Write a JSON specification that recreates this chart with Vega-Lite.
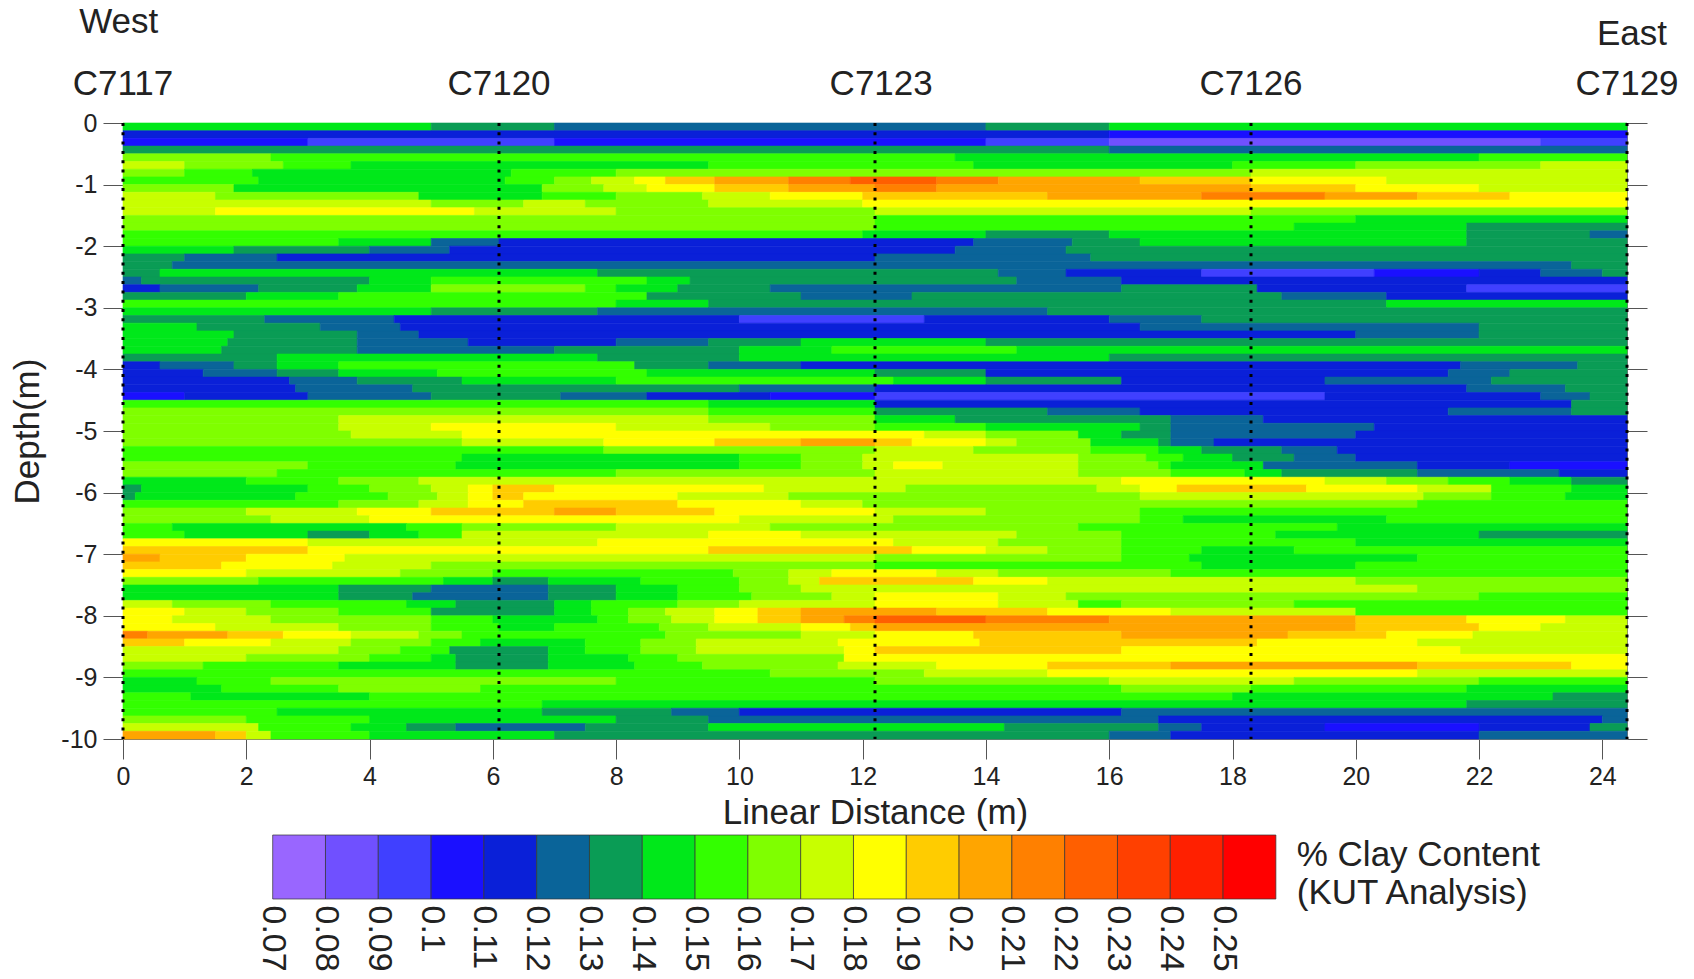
{"$schema":"https://vega.github.io/schema/vega-lite/v6.json","padding":{"left":10,"top":4,"right":0,"bottom":0},"background":"white","spacing":3,"config":{"font":"Liberation Sans","view":{"stroke":null},"axis":{"labelColor":"#222","titleColor":"#222","grid":false,"titleFontWeight":"normal"}},"vconcat":[{"width":1504,"height":616,"view":{"stroke":"#777"},"layer":[{"data":{"values":[
{"x0":0,"x1":5,"d0":0,"d1":-0.125,"clay":0.14},{"x0":5,"x1":7,"d0":0,"d1":-0.125,"clay":0.13},{"x0":7,"x1":14,"d0":0,"d1":-0.125,"clay":0.12},{"x0":14,"x1":16,"d0":0,"d1":-0.125,"clay":0.13},{"x0":16,"x1":24.4,"d0":0,"d1":-0.125,"clay":0.14},
{"x0":0,"x1":16,"d0":-0.125,"d1":-0.25,"clay":0.11},{"x0":16,"x1":24.4,"d0":-0.125,"d1":-0.25,"clay":0.1},
{"x0":0,"x1":3,"d0":-0.25,"d1":-0.375,"clay":0.1},{"x0":3,"x1":7,"d0":-0.25,"d1":-0.375,"clay":0.09},{"x0":7,"x1":14,"d0":-0.25,"d1":-0.375,"clay":0.1},{"x0":14,"x1":16,"d0":-0.25,"d1":-0.375,"clay":0.09},{"x0":16,"x1":23,"d0":-0.25,"d1":-0.375,"clay":0.08},{"x0":23,"x1":24.4,"d0":-0.25,"d1":-0.375,"clay":0.09},
{"x0":0,"x1":16,"d0":-0.375,"d1":-0.5,"clay":0.13},{"x0":16,"x1":24.4,"d0":-0.375,"d1":-0.5,"clay":0.12},
{"x0":0,"x1":2.4,"d0":-0.5,"d1":-0.625,"clay":0.16},{"x0":2.4,"x1":13.5,"d0":-0.5,"d1":-0.625,"clay":0.15},{"x0":13.5,"x1":22,"d0":-0.5,"d1":-0.625,"clay":0.14},{"x0":22,"x1":24.4,"d0":-0.5,"d1":-0.625,"clay":0.15},
{"x0":0,"x1":1,"d0":-0.625,"d1":-0.75,"clay":0.17},{"x0":1,"x1":2.6,"d0":-0.625,"d1":-0.75,"clay":0.16},{"x0":2.6,"x1":3.7,"d0":-0.625,"d1":-0.75,"clay":0.15},{"x0":3.7,"x1":9.5,"d0":-0.625,"d1":-0.75,"clay":0.14},{"x0":9.5,"x1":13.8,"d0":-0.625,"d1":-0.75,"clay":0.15},{"x0":13.8,"x1":18,"d0":-0.625,"d1":-0.75,"clay":0.14},{"x0":18,"x1":20,"d0":-0.625,"d1":-0.75,"clay":0.15},{"x0":20,"x1":23,"d0":-0.625,"d1":-0.75,"clay":0.16},{"x0":23,"x1":24.4,"d0":-0.625,"d1":-0.75,"clay":0.17},
{"x0":0,"x1":1,"d0":-0.75,"d1":-0.875,"clay":0.16},{"x0":1,"x1":2.1,"d0":-0.75,"d1":-0.875,"clay":0.15},{"x0":2.1,"x1":6.3,"d0":-0.75,"d1":-0.875,"clay":0.14},{"x0":6.3,"x1":8,"d0":-0.75,"d1":-0.875,"clay":0.15},{"x0":8,"x1":18.3,"d0":-0.75,"d1":-0.875,"clay":0.16},{"x0":18.3,"x1":24.4,"d0":-0.75,"d1":-0.875,"clay":0.17},
{"x0":0,"x1":2.2,"d0":-0.875,"d1":-1,"clay":0.15},{"x0":2.2,"x1":6.2,"d0":-0.875,"d1":-1,"clay":0.14},{"x0":6.2,"x1":7,"d0":-0.875,"d1":-1,"clay":0.15},{"x0":7,"x1":7.6,"d0":-0.875,"d1":-1,"clay":0.16},{"x0":7.6,"x1":8.3,"d0":-0.875,"d1":-1,"clay":0.17},{"x0":8.3,"x1":8.8,"d0":-0.875,"d1":-1,"clay":0.18},{"x0":8.8,"x1":9.6,"d0":-0.875,"d1":-1,"clay":0.19},{"x0":9.6,"x1":10.8,"d0":-0.875,"d1":-1,"clay":0.2},{"x0":10.8,"x1":11.8,"d0":-0.875,"d1":-1,"clay":0.21},{"x0":11.8,"x1":13.2,"d0":-0.875,"d1":-1,"clay":0.22},{"x0":13.2,"x1":14.2,"d0":-0.875,"d1":-1,"clay":0.21},{"x0":14.2,"x1":16.5,"d0":-0.875,"d1":-1,"clay":0.2},{"x0":16.5,"x1":18.3,"d0":-0.875,"d1":-1,"clay":0.19},{"x0":18.3,"x1":20.5,"d0":-0.875,"d1":-1,"clay":0.18},{"x0":20.5,"x1":24.4,"d0":-0.875,"d1":-1,"clay":0.17},
{"x0":0,"x1":1.8,"d0":-1,"d1":-1.125,"clay":0.16},{"x0":1.8,"x1":6.8,"d0":-1,"d1":-1.125,"clay":0.14},{"x0":6.8,"x1":7.8,"d0":-1,"d1":-1.125,"clay":0.16},{"x0":7.8,"x1":8.5,"d0":-1,"d1":-1.125,"clay":0.17},{"x0":8.5,"x1":9.6,"d0":-1,"d1":-1.125,"clay":0.18},{"x0":9.6,"x1":10.8,"d0":-1,"d1":-1.125,"clay":0.19},{"x0":10.8,"x1":12.2,"d0":-1,"d1":-1.125,"clay":0.2},{"x0":12.2,"x1":13.2,"d0":-1,"d1":-1.125,"clay":0.21},{"x0":13.2,"x1":18.3,"d0":-1,"d1":-1.125,"clay":0.2},{"x0":18.3,"x1":20,"d0":-1,"d1":-1.125,"clay":0.19},{"x0":20,"x1":22,"d0":-1,"d1":-1.125,"clay":0.18},{"x0":22,"x1":24.4,"d0":-1,"d1":-1.125,"clay":0.17},
{"x0":0,"x1":1.5,"d0":-1.125,"d1":-1.25,"clay":0.17},{"x0":1.5,"x1":4.8,"d0":-1.125,"d1":-1.25,"clay":0.16},{"x0":4.8,"x1":6.8,"d0":-1.125,"d1":-1.25,"clay":0.14},{"x0":6.8,"x1":8,"d0":-1.125,"d1":-1.25,"clay":0.15},{"x0":8,"x1":9.4,"d0":-1.125,"d1":-1.25,"clay":0.16},{"x0":9.4,"x1":10.5,"d0":-1.125,"d1":-1.25,"clay":0.17},{"x0":10.5,"x1":12,"d0":-1.125,"d1":-1.25,"clay":0.18},{"x0":12,"x1":15,"d0":-1.125,"d1":-1.25,"clay":0.19},{"x0":15,"x1":17.5,"d0":-1.125,"d1":-1.25,"clay":0.2},{"x0":17.5,"x1":19.5,"d0":-1.125,"d1":-1.25,"clay":0.21},{"x0":19.5,"x1":21,"d0":-1.125,"d1":-1.25,"clay":0.2},{"x0":21,"x1":22.5,"d0":-1.125,"d1":-1.25,"clay":0.19},{"x0":22.5,"x1":24.4,"d0":-1.125,"d1":-1.25,"clay":0.18},
{"x0":0,"x1":5,"d0":-1.25,"d1":-1.375,"clay":0.17},{"x0":5,"x1":6.5,"d0":-1.25,"d1":-1.375,"clay":0.16},{"x0":6.5,"x1":7.5,"d0":-1.25,"d1":-1.375,"clay":0.17},{"x0":7.5,"x1":9.5,"d0":-1.25,"d1":-1.375,"clay":0.16},{"x0":9.5,"x1":12,"d0":-1.25,"d1":-1.375,"clay":0.17},{"x0":12,"x1":24.4,"d0":-1.25,"d1":-1.375,"clay":0.18},
{"x0":0,"x1":1.5,"d0":-1.375,"d1":-1.5,"clay":0.17},{"x0":1.5,"x1":5.7,"d0":-1.375,"d1":-1.5,"clay":0.18},{"x0":5.7,"x1":8,"d0":-1.375,"d1":-1.5,"clay":0.17},{"x0":8,"x1":12.2,"d0":-1.375,"d1":-1.5,"clay":0.16},{"x0":12.2,"x1":18.3,"d0":-1.375,"d1":-1.5,"clay":0.17},{"x0":18.3,"x1":24.4,"d0":-1.375,"d1":-1.5,"clay":0.16},
{"x0":0,"x1":12.2,"d0":-1.5,"d1":-1.625,"clay":0.16},{"x0":12.2,"x1":20,"d0":-1.5,"d1":-1.625,"clay":0.15},{"x0":20,"x1":24.4,"d0":-1.5,"d1":-1.625,"clay":0.14},
{"x0":0,"x1":12.2,"d0":-1.625,"d1":-1.75,"clay":0.16},{"x0":12.2,"x1":19,"d0":-1.625,"d1":-1.75,"clay":0.15},{"x0":19,"x1":21.8,"d0":-1.625,"d1":-1.75,"clay":0.14},{"x0":21.8,"x1":24.4,"d0":-1.625,"d1":-1.75,"clay":0.13},
{"x0":0,"x1":12,"d0":-1.75,"d1":-1.875,"clay":0.15},{"x0":12,"x1":14,"d0":-1.75,"d1":-1.875,"clay":0.14},{"x0":14,"x1":16,"d0":-1.75,"d1":-1.875,"clay":0.13},{"x0":16,"x1":21.8,"d0":-1.75,"d1":-1.875,"clay":0.14},{"x0":21.8,"x1":23.8,"d0":-1.75,"d1":-1.875,"clay":0.13},{"x0":23.8,"x1":24.4,"d0":-1.75,"d1":-1.875,"clay":0.12},
{"x0":0,"x1":3.5,"d0":-1.875,"d1":-2,"clay":0.15},{"x0":3.5,"x1":5,"d0":-1.875,"d1":-2,"clay":0.14},{"x0":5,"x1":6.1,"d0":-1.875,"d1":-2,"clay":0.12},{"x0":6.1,"x1":13.8,"d0":-1.875,"d1":-2,"clay":0.11},{"x0":13.8,"x1":15.4,"d0":-1.875,"d1":-2,"clay":0.12},{"x0":15.4,"x1":16.5,"d0":-1.875,"d1":-2,"clay":0.13},{"x0":16.5,"x1":21.8,"d0":-1.875,"d1":-2,"clay":0.14},{"x0":21.8,"x1":24.4,"d0":-1.875,"d1":-2,"clay":0.13},
{"x0":0,"x1":1.8,"d0":-2,"d1":-2.125,"clay":0.14},{"x0":1.8,"x1":4,"d0":-2,"d1":-2.125,"clay":0.13},{"x0":4,"x1":5.3,"d0":-2,"d1":-2.125,"clay":0.12},{"x0":5.3,"x1":13.5,"d0":-2,"d1":-2.125,"clay":0.11},{"x0":13.5,"x1":15.3,"d0":-2,"d1":-2.125,"clay":0.12},{"x0":15.3,"x1":24.4,"d0":-2,"d1":-2.125,"clay":0.13},
{"x0":0,"x1":1,"d0":-2.125,"d1":-2.25,"clay":0.13},{"x0":1,"x1":2.5,"d0":-2.125,"d1":-2.25,"clay":0.12},{"x0":2.5,"x1":12.2,"d0":-2.125,"d1":-2.25,"clay":0.11},{"x0":12.2,"x1":15.7,"d0":-2.125,"d1":-2.25,"clay":0.12},{"x0":15.7,"x1":24.4,"d0":-2.125,"d1":-2.25,"clay":0.13},
{"x0":0,"x1":0.8,"d0":-2.25,"d1":-2.375,"clay":0.13},{"x0":0.8,"x1":23.5,"d0":-2.25,"d1":-2.375,"clay":0.12},{"x0":23.5,"x1":24.4,"d0":-2.25,"d1":-2.375,"clay":0.13},
{"x0":0,"x1":0.6,"d0":-2.375,"d1":-2.5,"clay":0.13},{"x0":0.6,"x1":7.7,"d0":-2.375,"d1":-2.5,"clay":0.14},{"x0":7.7,"x1":14.2,"d0":-2.375,"d1":-2.5,"clay":0.13},{"x0":14.2,"x1":15.3,"d0":-2.375,"d1":-2.5,"clay":0.12},{"x0":15.3,"x1":17.5,"d0":-2.375,"d1":-2.5,"clay":0.11},{"x0":17.5,"x1":20.3,"d0":-2.375,"d1":-2.5,"clay":0.09},{"x0":20.3,"x1":22,"d0":-2.375,"d1":-2.5,"clay":0.1},{"x0":22,"x1":23,"d0":-2.375,"d1":-2.5,"clay":0.11},{"x0":23,"x1":24,"d0":-2.375,"d1":-2.5,"clay":0.12},{"x0":24,"x1":24.4,"d0":-2.375,"d1":-2.5,"clay":0.13},
{"x0":0,"x1":0.3,"d0":-2.5,"d1":-2.625,"clay":0.12},{"x0":0.3,"x1":4,"d0":-2.5,"d1":-2.625,"clay":0.13},{"x0":4,"x1":5,"d0":-2.5,"d1":-2.625,"clay":0.14},{"x0":5,"x1":8.5,"d0":-2.5,"d1":-2.625,"clay":0.15},{"x0":8.5,"x1":9.2,"d0":-2.5,"d1":-2.625,"clay":0.14},{"x0":9.2,"x1":14.5,"d0":-2.5,"d1":-2.625,"clay":0.13},{"x0":14.5,"x1":16.2,"d0":-2.5,"d1":-2.625,"clay":0.12},{"x0":16.2,"x1":24.4,"d0":-2.5,"d1":-2.625,"clay":0.11},
{"x0":0,"x1":0.6,"d0":-2.625,"d1":-2.75,"clay":0.11},{"x0":0.6,"x1":2.2,"d0":-2.625,"d1":-2.75,"clay":0.12},{"x0":2.2,"x1":3.8,"d0":-2.625,"d1":-2.75,"clay":0.13},{"x0":3.8,"x1":5,"d0":-2.625,"d1":-2.75,"clay":0.14},{"x0":5,"x1":7.5,"d0":-2.625,"d1":-2.75,"clay":0.16},{"x0":7.5,"x1":8,"d0":-2.625,"d1":-2.75,"clay":0.15},{"x0":8,"x1":9,"d0":-2.625,"d1":-2.75,"clay":0.14},{"x0":9,"x1":10.5,"d0":-2.625,"d1":-2.75,"clay":0.13},{"x0":10.5,"x1":16.2,"d0":-2.625,"d1":-2.75,"clay":0.12},{"x0":16.2,"x1":18.4,"d0":-2.625,"d1":-2.75,"clay":0.13},{"x0":18.4,"x1":21.8,"d0":-2.625,"d1":-2.75,"clay":0.11},{"x0":21.8,"x1":24.4,"d0":-2.625,"d1":-2.75,"clay":0.09},
{"x0":0,"x1":2,"d0":-2.75,"d1":-2.875,"clay":0.13},{"x0":2,"x1":3.5,"d0":-2.75,"d1":-2.875,"clay":0.14},{"x0":3.5,"x1":8.5,"d0":-2.75,"d1":-2.875,"clay":0.15},{"x0":8.5,"x1":11,"d0":-2.75,"d1":-2.875,"clay":0.13},{"x0":11,"x1":12.8,"d0":-2.75,"d1":-2.875,"clay":0.12},{"x0":12.8,"x1":18.8,"d0":-2.75,"d1":-2.875,"clay":0.13},{"x0":18.8,"x1":20.5,"d0":-2.75,"d1":-2.875,"clay":0.12},{"x0":20.5,"x1":24.4,"d0":-2.75,"d1":-2.875,"clay":0.11},
{"x0":0,"x1":8,"d0":-2.875,"d1":-3,"clay":0.15},{"x0":8,"x1":9.5,"d0":-2.875,"d1":-3,"clay":0.14},{"x0":9.5,"x1":20.5,"d0":-2.875,"d1":-3,"clay":0.13},{"x0":20.5,"x1":24.4,"d0":-2.875,"d1":-3,"clay":0.14},
{"x0":0,"x1":5,"d0":-3,"d1":-3.125,"clay":0.14},{"x0":5,"x1":7.7,"d0":-3,"d1":-3.125,"clay":0.13},{"x0":7.7,"x1":15,"d0":-3,"d1":-3.125,"clay":0.12},{"x0":15,"x1":24.4,"d0":-3,"d1":-3.125,"clay":0.13},
{"x0":0,"x1":2.3,"d0":-3.125,"d1":-3.25,"clay":0.13},{"x0":2.3,"x1":4.4,"d0":-3.125,"d1":-3.25,"clay":0.12},{"x0":4.4,"x1":10,"d0":-3.125,"d1":-3.25,"clay":0.11},{"x0":10,"x1":13,"d0":-3.125,"d1":-3.25,"clay":0.09},{"x0":13,"x1":16,"d0":-3.125,"d1":-3.25,"clay":0.11},{"x0":16,"x1":17.5,"d0":-3.125,"d1":-3.25,"clay":0.12},{"x0":17.5,"x1":24.4,"d0":-3.125,"d1":-3.25,"clay":0.13},
{"x0":0,"x1":1.2,"d0":-3.25,"d1":-3.375,"clay":0.14},{"x0":1.2,"x1":3.2,"d0":-3.25,"d1":-3.375,"clay":0.13},{"x0":3.2,"x1":4.5,"d0":-3.25,"d1":-3.375,"clay":0.12},{"x0":4.5,"x1":16.5,"d0":-3.25,"d1":-3.375,"clay":0.11},{"x0":16.5,"x1":22,"d0":-3.25,"d1":-3.375,"clay":0.12},{"x0":22,"x1":24.4,"d0":-3.25,"d1":-3.375,"clay":0.13},
{"x0":0,"x1":1.8,"d0":-3.375,"d1":-3.5,"clay":0.14},{"x0":1.8,"x1":3.8,"d0":-3.375,"d1":-3.5,"clay":0.13},{"x0":3.8,"x1":4.8,"d0":-3.375,"d1":-3.5,"clay":0.12},{"x0":4.8,"x1":20,"d0":-3.375,"d1":-3.5,"clay":0.11},{"x0":20,"x1":22,"d0":-3.375,"d1":-3.5,"clay":0.12},{"x0":22,"x1":24.4,"d0":-3.375,"d1":-3.5,"clay":0.13},
{"x0":0,"x1":1.7,"d0":-3.5,"d1":-3.625,"clay":0.14},{"x0":1.7,"x1":3.8,"d0":-3.5,"d1":-3.625,"clay":0.13},{"x0":3.8,"x1":5.6,"d0":-3.5,"d1":-3.625,"clay":0.12},{"x0":5.6,"x1":8,"d0":-3.5,"d1":-3.625,"clay":0.11},{"x0":8,"x1":9.5,"d0":-3.5,"d1":-3.625,"clay":0.12},{"x0":9.5,"x1":11,"d0":-3.5,"d1":-3.625,"clay":0.13},{"x0":11,"x1":14,"d0":-3.5,"d1":-3.625,"clay":0.14},{"x0":14,"x1":24.4,"d0":-3.5,"d1":-3.625,"clay":0.13},
{"x0":0,"x1":1.6,"d0":-3.625,"d1":-3.75,"clay":0.14},{"x0":1.6,"x1":3.8,"d0":-3.625,"d1":-3.75,"clay":0.13},{"x0":3.8,"x1":7,"d0":-3.625,"d1":-3.75,"clay":0.12},{"x0":7,"x1":10,"d0":-3.625,"d1":-3.75,"clay":0.13},{"x0":10,"x1":11.5,"d0":-3.625,"d1":-3.75,"clay":0.14},{"x0":11.5,"x1":14.5,"d0":-3.625,"d1":-3.75,"clay":0.15},{"x0":14.5,"x1":24.4,"d0":-3.625,"d1":-3.75,"clay":0.14},
{"x0":0,"x1":2.5,"d0":-3.75,"d1":-3.875,"clay":0.13},{"x0":2.5,"x1":7.7,"d0":-3.75,"d1":-3.875,"clay":0.14},{"x0":7.7,"x1":10,"d0":-3.75,"d1":-3.875,"clay":0.13},{"x0":10,"x1":16,"d0":-3.75,"d1":-3.875,"clay":0.14},{"x0":16,"x1":24.4,"d0":-3.75,"d1":-3.875,"clay":0.13},
{"x0":0,"x1":0.6,"d0":-3.875,"d1":-4,"clay":0.11},{"x0":0.6,"x1":1.8,"d0":-3.875,"d1":-4,"clay":0.12},{"x0":1.8,"x1":2.5,"d0":-3.875,"d1":-4,"clay":0.13},{"x0":2.5,"x1":3.5,"d0":-3.875,"d1":-4,"clay":0.14},{"x0":3.5,"x1":8.3,"d0":-3.875,"d1":-4,"clay":0.15},{"x0":8.3,"x1":9.5,"d0":-3.875,"d1":-4,"clay":0.13},{"x0":9.5,"x1":11,"d0":-3.875,"d1":-4,"clay":0.12},{"x0":11,"x1":21.7,"d0":-3.875,"d1":-4,"clay":0.11},{"x0":21.7,"x1":23.6,"d0":-3.875,"d1":-4,"clay":0.12},{"x0":23.6,"x1":24.4,"d0":-3.875,"d1":-4,"clay":0.13},
{"x0":0,"x1":1.3,"d0":-4,"d1":-4.125,"clay":0.11},{"x0":1.3,"x1":2.5,"d0":-4,"d1":-4.125,"clay":0.12},{"x0":2.5,"x1":3.5,"d0":-4,"d1":-4.125,"clay":0.13},{"x0":3.5,"x1":5.1,"d0":-4,"d1":-4.125,"clay":0.14},{"x0":5.1,"x1":8.5,"d0":-4,"d1":-4.125,"clay":0.15},{"x0":8.5,"x1":12.2,"d0":-4,"d1":-4.125,"clay":0.14},{"x0":12.2,"x1":14,"d0":-4,"d1":-4.125,"clay":0.13},{"x0":14,"x1":21.5,"d0":-4,"d1":-4.125,"clay":0.11},{"x0":21.5,"x1":22.5,"d0":-4,"d1":-4.125,"clay":0.12},{"x0":22.5,"x1":24.4,"d0":-4,"d1":-4.125,"clay":0.13},
{"x0":0,"x1":2.7,"d0":-4.125,"d1":-4.25,"clay":0.11},{"x0":2.7,"x1":3.8,"d0":-4.125,"d1":-4.25,"clay":0.12},{"x0":3.8,"x1":5.5,"d0":-4.125,"d1":-4.25,"clay":0.13},{"x0":5.5,"x1":8,"d0":-4.125,"d1":-4.25,"clay":0.14},{"x0":8,"x1":12.5,"d0":-4.125,"d1":-4.25,"clay":0.15},{"x0":12.5,"x1":14,"d0":-4.125,"d1":-4.25,"clay":0.14},{"x0":14,"x1":16.2,"d0":-4.125,"d1":-4.25,"clay":0.13},{"x0":16.2,"x1":19.5,"d0":-4.125,"d1":-4.25,"clay":0.11},{"x0":19.5,"x1":22.2,"d0":-4.125,"d1":-4.25,"clay":0.12},{"x0":22.2,"x1":24.4,"d0":-4.125,"d1":-4.25,"clay":0.13},
{"x0":0,"x1":2.8,"d0":-4.25,"d1":-4.375,"clay":0.11},{"x0":2.8,"x1":4.7,"d0":-4.25,"d1":-4.375,"clay":0.12},{"x0":4.7,"x1":10,"d0":-4.25,"d1":-4.375,"clay":0.13},{"x0":10,"x1":12.2,"d0":-4.25,"d1":-4.375,"clay":0.12},{"x0":12.2,"x1":21.8,"d0":-4.25,"d1":-4.375,"clay":0.11},{"x0":21.8,"x1":23.4,"d0":-4.25,"d1":-4.375,"clay":0.12},{"x0":23.4,"x1":24.4,"d0":-4.25,"d1":-4.375,"clay":0.13},
{"x0":0,"x1":1,"d0":-4.375,"d1":-4.5,"clay":0.1},{"x0":1,"x1":3,"d0":-4.375,"d1":-4.5,"clay":0.11},{"x0":3,"x1":5,"d0":-4.375,"d1":-4.5,"clay":0.12},{"x0":5,"x1":7.1,"d0":-4.375,"d1":-4.5,"clay":0.13},{"x0":7.1,"x1":8.5,"d0":-4.375,"d1":-4.5,"clay":0.12},{"x0":8.5,"x1":10.5,"d0":-4.375,"d1":-4.5,"clay":0.11},{"x0":10.5,"x1":12.2,"d0":-4.375,"d1":-4.5,"clay":0.1},{"x0":12.2,"x1":19.5,"d0":-4.375,"d1":-4.5,"clay":0.09},{"x0":19.5,"x1":23,"d0":-4.375,"d1":-4.5,"clay":0.11},{"x0":23,"x1":23.8,"d0":-4.375,"d1":-4.5,"clay":0.12},{"x0":23.8,"x1":24.4,"d0":-4.375,"d1":-4.5,"clay":0.13},
{"x0":0,"x1":9.5,"d0":-4.5,"d1":-4.625,"clay":0.15},{"x0":9.5,"x1":12.2,"d0":-4.5,"d1":-4.625,"clay":0.14},{"x0":12.2,"x1":23.5,"d0":-4.5,"d1":-4.625,"clay":0.11},{"x0":23.5,"x1":24.4,"d0":-4.5,"d1":-4.625,"clay":0.13},
{"x0":0,"x1":9.5,"d0":-4.625,"d1":-4.75,"clay":0.16},{"x0":9.5,"x1":12.2,"d0":-4.625,"d1":-4.75,"clay":0.15},{"x0":12.2,"x1":15,"d0":-4.625,"d1":-4.75,"clay":0.13},{"x0":15,"x1":16.5,"d0":-4.625,"d1":-4.75,"clay":0.12},{"x0":16.5,"x1":21.5,"d0":-4.625,"d1":-4.75,"clay":0.11},{"x0":21.5,"x1":23.5,"d0":-4.625,"d1":-4.75,"clay":0.12},{"x0":23.5,"x1":24.4,"d0":-4.625,"d1":-4.75,"clay":0.13},
{"x0":0,"x1":3.5,"d0":-4.75,"d1":-4.875,"clay":0.16},{"x0":3.5,"x1":9.5,"d0":-4.75,"d1":-4.875,"clay":0.17},{"x0":9.5,"x1":12.2,"d0":-4.75,"d1":-4.875,"clay":0.16},{"x0":12.2,"x1":13.5,"d0":-4.75,"d1":-4.875,"clay":0.14},{"x0":13.5,"x1":17,"d0":-4.75,"d1":-4.875,"clay":0.13},{"x0":17,"x1":18.5,"d0":-4.75,"d1":-4.875,"clay":0.12},{"x0":18.5,"x1":24.4,"d0":-4.75,"d1":-4.875,"clay":0.11},
{"x0":0,"x1":3.5,"d0":-4.875,"d1":-5,"clay":0.16},{"x0":3.5,"x1":5,"d0":-4.875,"d1":-5,"clay":0.17},{"x0":5,"x1":8,"d0":-4.875,"d1":-5,"clay":0.18},{"x0":8,"x1":10.5,"d0":-4.875,"d1":-5,"clay":0.17},{"x0":10.5,"x1":12.2,"d0":-4.875,"d1":-5,"clay":0.16},{"x0":12.2,"x1":14,"d0":-4.875,"d1":-5,"clay":0.15},{"x0":14,"x1":16.5,"d0":-4.875,"d1":-5,"clay":0.14},{"x0":16.5,"x1":17,"d0":-4.875,"d1":-5,"clay":0.13},{"x0":17,"x1":20.3,"d0":-4.875,"d1":-5,"clay":0.12},{"x0":20.3,"x1":24.4,"d0":-4.875,"d1":-5,"clay":0.11},
{"x0":0,"x1":3.7,"d0":-5,"d1":-5.125,"clay":0.16},{"x0":3.7,"x1":5.5,"d0":-5,"d1":-5.125,"clay":0.17},{"x0":5.5,"x1":13,"d0":-5,"d1":-5.125,"clay":0.18},{"x0":13,"x1":14,"d0":-5,"d1":-5.125,"clay":0.17},{"x0":14,"x1":15.5,"d0":-5,"d1":-5.125,"clay":0.16},{"x0":15.5,"x1":16.2,"d0":-5,"d1":-5.125,"clay":0.14},{"x0":16.2,"x1":17,"d0":-5,"d1":-5.125,"clay":0.13},{"x0":17,"x1":20,"d0":-5,"d1":-5.125,"clay":0.12},{"x0":20,"x1":24.4,"d0":-5,"d1":-5.125,"clay":0.11},
{"x0":0,"x1":5.5,"d0":-5.125,"d1":-5.25,"clay":0.16},{"x0":5.5,"x1":7.8,"d0":-5.125,"d1":-5.25,"clay":0.17},{"x0":7.8,"x1":9.6,"d0":-5.125,"d1":-5.25,"clay":0.18},{"x0":9.6,"x1":11,"d0":-5.125,"d1":-5.25,"clay":0.19},{"x0":11,"x1":12.2,"d0":-5.125,"d1":-5.25,"clay":0.2},{"x0":12.2,"x1":12.8,"d0":-5.125,"d1":-5.25,"clay":0.19},{"x0":12.8,"x1":14,"d0":-5.125,"d1":-5.25,"clay":0.18},{"x0":14,"x1":14.5,"d0":-5.125,"d1":-5.25,"clay":0.17},{"x0":14.5,"x1":15.7,"d0":-5.125,"d1":-5.25,"clay":0.16},{"x0":15.7,"x1":16.8,"d0":-5.125,"d1":-5.25,"clay":0.14},{"x0":16.8,"x1":17,"d0":-5.125,"d1":-5.25,"clay":0.13},{"x0":17,"x1":17.7,"d0":-5.125,"d1":-5.25,"clay":0.12},{"x0":17.7,"x1":24.4,"d0":-5.125,"d1":-5.25,"clay":0.11},
{"x0":0,"x1":7.8,"d0":-5.25,"d1":-5.375,"clay":0.15},{"x0":7.8,"x1":12.2,"d0":-5.25,"d1":-5.375,"clay":0.16},{"x0":12.2,"x1":13.8,"d0":-5.25,"d1":-5.375,"clay":0.17},{"x0":13.8,"x1":15.7,"d0":-5.25,"d1":-5.375,"clay":0.16},{"x0":15.7,"x1":16.8,"d0":-5.25,"d1":-5.375,"clay":0.15},{"x0":16.8,"x1":17.5,"d0":-5.25,"d1":-5.375,"clay":0.14},{"x0":17.5,"x1":18.8,"d0":-5.25,"d1":-5.375,"clay":0.13},{"x0":18.8,"x1":19.7,"d0":-5.25,"d1":-5.375,"clay":0.12},{"x0":19.7,"x1":24.4,"d0":-5.25,"d1":-5.375,"clay":0.11},
{"x0":0,"x1":5.5,"d0":-5.375,"d1":-5.5,"clay":0.15},{"x0":5.5,"x1":10,"d0":-5.375,"d1":-5.5,"clay":0.14},{"x0":10,"x1":11,"d0":-5.375,"d1":-5.5,"clay":0.15},{"x0":11,"x1":12,"d0":-5.375,"d1":-5.5,"clay":0.16},{"x0":12,"x1":15.5,"d0":-5.375,"d1":-5.5,"clay":0.17},{"x0":15.5,"x1":16.6,"d0":-5.375,"d1":-5.5,"clay":0.16},{"x0":16.6,"x1":17.2,"d0":-5.375,"d1":-5.5,"clay":0.15},{"x0":17.2,"x1":18,"d0":-5.375,"d1":-5.5,"clay":0.14},{"x0":18,"x1":19,"d0":-5.375,"d1":-5.5,"clay":0.13},{"x0":19,"x1":20,"d0":-5.375,"d1":-5.5,"clay":0.12},{"x0":20,"x1":24.4,"d0":-5.375,"d1":-5.5,"clay":0.11},
{"x0":0,"x1":3,"d0":-5.5,"d1":-5.625,"clay":0.16},{"x0":3,"x1":5.4,"d0":-5.5,"d1":-5.625,"clay":0.15},{"x0":5.4,"x1":10,"d0":-5.5,"d1":-5.625,"clay":0.14},{"x0":10,"x1":11,"d0":-5.5,"d1":-5.625,"clay":0.15},{"x0":11,"x1":12,"d0":-5.5,"d1":-5.625,"clay":0.16},{"x0":12,"x1":12.5,"d0":-5.5,"d1":-5.625,"clay":0.17},{"x0":12.5,"x1":13.3,"d0":-5.5,"d1":-5.625,"clay":0.18},{"x0":13.3,"x1":15.5,"d0":-5.5,"d1":-5.625,"clay":0.17},{"x0":15.5,"x1":16.8,"d0":-5.5,"d1":-5.625,"clay":0.16},{"x0":16.8,"x1":17,"d0":-5.5,"d1":-5.625,"clay":0.15},{"x0":17,"x1":18.5,"d0":-5.5,"d1":-5.625,"clay":0.14},{"x0":18.5,"x1":21,"d0":-5.5,"d1":-5.625,"clay":0.12},{"x0":21,"x1":22.5,"d0":-5.5,"d1":-5.625,"clay":0.11},{"x0":22.5,"x1":24.4,"d0":-5.5,"d1":-5.625,"clay":0.1},
{"x0":0,"x1":2.5,"d0":-5.625,"d1":-5.75,"clay":0.16},{"x0":2.5,"x1":8,"d0":-5.625,"d1":-5.75,"clay":0.15},{"x0":8,"x1":12.2,"d0":-5.625,"d1":-5.75,"clay":0.16},{"x0":12.2,"x1":15.5,"d0":-5.625,"d1":-5.75,"clay":0.17},{"x0":15.5,"x1":17,"d0":-5.625,"d1":-5.75,"clay":0.16},{"x0":17,"x1":18.2,"d0":-5.625,"d1":-5.75,"clay":0.15},{"x0":18.2,"x1":18.8,"d0":-5.625,"d1":-5.75,"clay":0.14},{"x0":18.8,"x1":21,"d0":-5.625,"d1":-5.75,"clay":0.13},{"x0":21,"x1":23.3,"d0":-5.625,"d1":-5.75,"clay":0.12},{"x0":23.3,"x1":24.4,"d0":-5.625,"d1":-5.75,"clay":0.11},
{"x0":0,"x1":2,"d0":-5.75,"d1":-5.875,"clay":0.14},{"x0":2,"x1":3.5,"d0":-5.75,"d1":-5.875,"clay":0.15},{"x0":3.5,"x1":4.8,"d0":-5.75,"d1":-5.875,"clay":0.16},{"x0":4.8,"x1":16.2,"d0":-5.75,"d1":-5.875,"clay":0.17},{"x0":16.2,"x1":19.5,"d0":-5.75,"d1":-5.875,"clay":0.18},{"x0":19.5,"x1":20.5,"d0":-5.75,"d1":-5.875,"clay":0.17},{"x0":20.5,"x1":21.5,"d0":-5.75,"d1":-5.875,"clay":0.16},{"x0":21.5,"x1":22.5,"d0":-5.75,"d1":-5.875,"clay":0.15},{"x0":22.5,"x1":23.5,"d0":-5.75,"d1":-5.875,"clay":0.14},{"x0":23.5,"x1":24.4,"d0":-5.75,"d1":-5.875,"clay":0.13},
{"x0":0,"x1":0.3,"d0":-5.875,"d1":-6,"clay":0.13},{"x0":0.3,"x1":3,"d0":-5.875,"d1":-6,"clay":0.14},{"x0":3,"x1":4,"d0":-5.875,"d1":-6,"clay":0.15},{"x0":4,"x1":5,"d0":-5.875,"d1":-6,"clay":0.16},{"x0":5,"x1":5.6,"d0":-5.875,"d1":-6,"clay":0.17},{"x0":5.6,"x1":6,"d0":-5.875,"d1":-6,"clay":0.18},{"x0":6,"x1":7,"d0":-5.875,"d1":-6,"clay":0.19},{"x0":7,"x1":10.4,"d0":-5.875,"d1":-6,"clay":0.18},{"x0":10.4,"x1":12.7,"d0":-5.875,"d1":-6,"clay":0.17},{"x0":12.7,"x1":15.8,"d0":-5.875,"d1":-6,"clay":0.16},{"x0":15.8,"x1":16.5,"d0":-5.875,"d1":-6,"clay":0.17},{"x0":16.5,"x1":17.1,"d0":-5.875,"d1":-6,"clay":0.18},{"x0":17.1,"x1":19.2,"d0":-5.875,"d1":-6,"clay":0.19},{"x0":19.2,"x1":21,"d0":-5.875,"d1":-6,"clay":0.18},{"x0":21,"x1":22.2,"d0":-5.875,"d1":-6,"clay":0.17},{"x0":22.2,"x1":23.5,"d0":-5.875,"d1":-6,"clay":0.15},{"x0":23.5,"x1":24.4,"d0":-5.875,"d1":-6,"clay":0.14},
{"x0":0,"x1":0.2,"d0":-6,"d1":-6.125,"clay":0.13},{"x0":0.2,"x1":2.8,"d0":-6,"d1":-6.125,"clay":0.14},{"x0":2.8,"x1":4.3,"d0":-6,"d1":-6.125,"clay":0.15},{"x0":4.3,"x1":5.1,"d0":-6,"d1":-6.125,"clay":0.16},{"x0":5.1,"x1":5.6,"d0":-6,"d1":-6.125,"clay":0.17},{"x0":5.6,"x1":6,"d0":-6,"d1":-6.125,"clay":0.18},{"x0":6,"x1":6.5,"d0":-6,"d1":-6.125,"clay":0.19},{"x0":6.5,"x1":9,"d0":-6,"d1":-6.125,"clay":0.18},{"x0":9,"x1":10.8,"d0":-6,"d1":-6.125,"clay":0.17},{"x0":10.8,"x1":16.5,"d0":-6,"d1":-6.125,"clay":0.16},{"x0":16.5,"x1":21.1,"d0":-6,"d1":-6.125,"clay":0.17},{"x0":21.1,"x1":22.2,"d0":-6,"d1":-6.125,"clay":0.16},{"x0":22.2,"x1":23.4,"d0":-6,"d1":-6.125,"clay":0.15},{"x0":23.4,"x1":24.4,"d0":-6,"d1":-6.125,"clay":0.14},
{"x0":0,"x1":3.5,"d0":-6.125,"d1":-6.25,"clay":0.15},{"x0":3.5,"x1":4.8,"d0":-6.125,"d1":-6.25,"clay":0.16},{"x0":4.8,"x1":5.6,"d0":-6.125,"d1":-6.25,"clay":0.17},{"x0":5.6,"x1":6.5,"d0":-6.125,"d1":-6.25,"clay":0.18},{"x0":6.5,"x1":9,"d0":-6.125,"d1":-6.25,"clay":0.19},{"x0":9,"x1":11,"d0":-6.125,"d1":-6.25,"clay":0.18},{"x0":11,"x1":12,"d0":-6.125,"d1":-6.25,"clay":0.17},{"x0":12,"x1":21,"d0":-6.125,"d1":-6.25,"clay":0.16},{"x0":21,"x1":24.4,"d0":-6.125,"d1":-6.25,"clay":0.15},
{"x0":0,"x1":2,"d0":-6.25,"d1":-6.375,"clay":0.16},{"x0":2,"x1":3.8,"d0":-6.25,"d1":-6.375,"clay":0.17},{"x0":3.8,"x1":5,"d0":-6.25,"d1":-6.375,"clay":0.18},{"x0":5,"x1":7,"d0":-6.25,"d1":-6.375,"clay":0.19},{"x0":7,"x1":8,"d0":-6.25,"d1":-6.375,"clay":0.2},{"x0":8,"x1":9.6,"d0":-6.25,"d1":-6.375,"clay":0.19},{"x0":9.6,"x1":12.2,"d0":-6.25,"d1":-6.375,"clay":0.18},{"x0":12.2,"x1":14,"d0":-6.25,"d1":-6.375,"clay":0.17},{"x0":14,"x1":16.5,"d0":-6.25,"d1":-6.375,"clay":0.16},{"x0":16.5,"x1":24.4,"d0":-6.25,"d1":-6.375,"clay":0.15},
{"x0":0,"x1":2.4,"d0":-6.375,"d1":-6.5,"clay":0.16},{"x0":2.4,"x1":4,"d0":-6.375,"d1":-6.5,"clay":0.17},{"x0":4,"x1":10,"d0":-6.375,"d1":-6.5,"clay":0.18},{"x0":10,"x1":12.5,"d0":-6.375,"d1":-6.5,"clay":0.17},{"x0":12.5,"x1":16.5,"d0":-6.375,"d1":-6.5,"clay":0.16},{"x0":16.5,"x1":17.2,"d0":-6.375,"d1":-6.5,"clay":0.15},{"x0":17.2,"x1":20.5,"d0":-6.375,"d1":-6.5,"clay":0.14},{"x0":20.5,"x1":24.4,"d0":-6.375,"d1":-6.5,"clay":0.15},
{"x0":0,"x1":0.8,"d0":-6.5,"d1":-6.625,"clay":0.15},{"x0":0.8,"x1":4.6,"d0":-6.5,"d1":-6.625,"clay":0.14},{"x0":4.6,"x1":5.5,"d0":-6.5,"d1":-6.625,"clay":0.15},{"x0":5.5,"x1":8,"d0":-6.5,"d1":-6.625,"clay":0.16},{"x0":8,"x1":10.5,"d0":-6.5,"d1":-6.625,"clay":0.17},{"x0":10.5,"x1":15.5,"d0":-6.5,"d1":-6.625,"clay":0.16},{"x0":15.5,"x1":19.7,"d0":-6.5,"d1":-6.625,"clay":0.15},{"x0":19.7,"x1":24.4,"d0":-6.5,"d1":-6.625,"clay":0.14},
{"x0":0,"x1":1,"d0":-6.625,"d1":-6.75,"clay":0.15},{"x0":1,"x1":3,"d0":-6.625,"d1":-6.75,"clay":0.14},{"x0":3,"x1":4,"d0":-6.625,"d1":-6.75,"clay":0.13},{"x0":4,"x1":4.8,"d0":-6.625,"d1":-6.75,"clay":0.14},{"x0":4.8,"x1":5.5,"d0":-6.625,"d1":-6.75,"clay":0.15},{"x0":5.5,"x1":9.5,"d0":-6.625,"d1":-6.75,"clay":0.17},{"x0":9.5,"x1":11,"d0":-6.625,"d1":-6.75,"clay":0.18},{"x0":11,"x1":14.5,"d0":-6.625,"d1":-6.75,"clay":0.17},{"x0":14.5,"x1":16.2,"d0":-6.625,"d1":-6.75,"clay":0.16},{"x0":16.2,"x1":18.7,"d0":-6.625,"d1":-6.75,"clay":0.15},{"x0":18.7,"x1":22,"d0":-6.625,"d1":-6.75,"clay":0.14},{"x0":22,"x1":24.4,"d0":-6.625,"d1":-6.75,"clay":0.13},
{"x0":0,"x1":3,"d0":-6.75,"d1":-6.875,"clay":0.18},{"x0":3,"x1":7.7,"d0":-6.75,"d1":-6.875,"clay":0.17},{"x0":7.7,"x1":12.5,"d0":-6.75,"d1":-6.875,"clay":0.18},{"x0":12.5,"x1":14.2,"d0":-6.75,"d1":-6.875,"clay":0.17},{"x0":14.2,"x1":16.2,"d0":-6.75,"d1":-6.875,"clay":0.16},{"x0":16.2,"x1":20,"d0":-6.75,"d1":-6.875,"clay":0.15},{"x0":20,"x1":24.4,"d0":-6.75,"d1":-6.875,"clay":0.14},
{"x0":0,"x1":3,"d0":-6.875,"d1":-7,"clay":0.19},{"x0":3,"x1":9.5,"d0":-6.875,"d1":-7,"clay":0.18},{"x0":9.5,"x1":12.8,"d0":-6.875,"d1":-7,"clay":0.19},{"x0":12.8,"x1":14,"d0":-6.875,"d1":-7,"clay":0.18},{"x0":14,"x1":15,"d0":-6.875,"d1":-7,"clay":0.17},{"x0":15,"x1":16.2,"d0":-6.875,"d1":-7,"clay":0.16},{"x0":16.2,"x1":17.5,"d0":-6.875,"d1":-7,"clay":0.15},{"x0":17.5,"x1":19,"d0":-6.875,"d1":-7,"clay":0.14},{"x0":19,"x1":24.4,"d0":-6.875,"d1":-7,"clay":0.15},
{"x0":0,"x1":0.6,"d0":-7,"d1":-7.125,"clay":0.2},{"x0":0.6,"x1":2,"d0":-7,"d1":-7.125,"clay":0.19},{"x0":2,"x1":3.6,"d0":-7,"d1":-7.125,"clay":0.18},{"x0":3.6,"x1":12.2,"d0":-7,"d1":-7.125,"clay":0.17},{"x0":12.2,"x1":16.2,"d0":-7,"d1":-7.125,"clay":0.16},{"x0":16.2,"x1":17.3,"d0":-7,"d1":-7.125,"clay":0.15},{"x0":17.3,"x1":21,"d0":-7,"d1":-7.125,"clay":0.14},{"x0":21,"x1":24.4,"d0":-7,"d1":-7.125,"clay":0.15},
{"x0":0,"x1":1.6,"d0":-7.125,"d1":-7.25,"clay":0.19},{"x0":1.6,"x1":3.4,"d0":-7.125,"d1":-7.25,"clay":0.18},{"x0":3.4,"x1":5,"d0":-7.125,"d1":-7.25,"clay":0.17},{"x0":5,"x1":12.2,"d0":-7.125,"d1":-7.25,"clay":0.16},{"x0":12.2,"x1":17.5,"d0":-7.125,"d1":-7.25,"clay":0.15},{"x0":17.5,"x1":20,"d0":-7.125,"d1":-7.25,"clay":0.14},{"x0":20,"x1":24.4,"d0":-7.125,"d1":-7.25,"clay":0.15},
{"x0":0,"x1":2,"d0":-7.25,"d1":-7.375,"clay":0.18},{"x0":2,"x1":4.5,"d0":-7.25,"d1":-7.375,"clay":0.17},{"x0":4.5,"x1":6,"d0":-7.25,"d1":-7.375,"clay":0.16},{"x0":6,"x1":9.9,"d0":-7.25,"d1":-7.375,"clay":0.15},{"x0":9.9,"x1":10.8,"d0":-7.25,"d1":-7.375,"clay":0.16},{"x0":10.8,"x1":11.5,"d0":-7.25,"d1":-7.375,"clay":0.17},{"x0":11.5,"x1":13.2,"d0":-7.25,"d1":-7.375,"clay":0.18},{"x0":13.2,"x1":14.2,"d0":-7.25,"d1":-7.375,"clay":0.17},{"x0":14.2,"x1":17,"d0":-7.25,"d1":-7.375,"clay":0.16},{"x0":17,"x1":24.4,"d0":-7.25,"d1":-7.375,"clay":0.15},
{"x0":0,"x1":2.2,"d0":-7.375,"d1":-7.5,"clay":0.16},{"x0":2.2,"x1":5.2,"d0":-7.375,"d1":-7.5,"clay":0.15},{"x0":5.2,"x1":6,"d0":-7.375,"d1":-7.5,"clay":0.14},{"x0":6,"x1":6.9,"d0":-7.375,"d1":-7.5,"clay":0.13},{"x0":6.9,"x1":8.4,"d0":-7.375,"d1":-7.5,"clay":0.14},{"x0":8.4,"x1":10,"d0":-7.375,"d1":-7.5,"clay":0.15},{"x0":10,"x1":10.8,"d0":-7.375,"d1":-7.5,"clay":0.16},{"x0":10.8,"x1":11.3,"d0":-7.375,"d1":-7.5,"clay":0.17},{"x0":11.3,"x1":13.8,"d0":-7.375,"d1":-7.5,"clay":0.19},{"x0":13.8,"x1":15,"d0":-7.375,"d1":-7.5,"clay":0.18},{"x0":15,"x1":20,"d0":-7.375,"d1":-7.5,"clay":0.17},{"x0":20,"x1":24.4,"d0":-7.375,"d1":-7.5,"clay":0.16},
{"x0":0,"x1":3.5,"d0":-7.5,"d1":-7.625,"clay":0.14},{"x0":3.5,"x1":5,"d0":-7.5,"d1":-7.625,"clay":0.13},{"x0":5,"x1":6.9,"d0":-7.5,"d1":-7.625,"clay":0.12},{"x0":6.9,"x1":8,"d0":-7.5,"d1":-7.625,"clay":0.13},{"x0":8,"x1":9,"d0":-7.5,"d1":-7.625,"clay":0.14},{"x0":9,"x1":10,"d0":-7.5,"d1":-7.625,"clay":0.15},{"x0":10,"x1":11,"d0":-7.5,"d1":-7.625,"clay":0.16},{"x0":11,"x1":21,"d0":-7.5,"d1":-7.625,"clay":0.17},{"x0":21,"x1":24.4,"d0":-7.5,"d1":-7.625,"clay":0.16},
{"x0":0,"x1":3.5,"d0":-7.625,"d1":-7.75,"clay":0.14},{"x0":3.5,"x1":4.7,"d0":-7.625,"d1":-7.75,"clay":0.13},{"x0":4.7,"x1":6.9,"d0":-7.625,"d1":-7.75,"clay":0.12},{"x0":6.9,"x1":8,"d0":-7.625,"d1":-7.75,"clay":0.13},{"x0":8,"x1":9,"d0":-7.625,"d1":-7.75,"clay":0.14},{"x0":9,"x1":10.2,"d0":-7.625,"d1":-7.75,"clay":0.15},{"x0":10.2,"x1":11.5,"d0":-7.625,"d1":-7.75,"clay":0.16},{"x0":11.5,"x1":12.2,"d0":-7.625,"d1":-7.75,"clay":0.17},{"x0":12.2,"x1":14.2,"d0":-7.625,"d1":-7.75,"clay":0.18},{"x0":14.2,"x1":15.3,"d0":-7.625,"d1":-7.75,"clay":0.17},{"x0":15.3,"x1":22,"d0":-7.625,"d1":-7.75,"clay":0.16},{"x0":22,"x1":24.4,"d0":-7.625,"d1":-7.75,"clay":0.15},
{"x0":0,"x1":0.8,"d0":-7.75,"d1":-7.875,"clay":0.17},{"x0":0.8,"x1":2.4,"d0":-7.75,"d1":-7.875,"clay":0.16},{"x0":2.4,"x1":4.6,"d0":-7.75,"d1":-7.875,"clay":0.15},{"x0":4.6,"x1":5.4,"d0":-7.75,"d1":-7.875,"clay":0.14},{"x0":5.4,"x1":7,"d0":-7.75,"d1":-7.875,"clay":0.13},{"x0":7,"x1":7.6,"d0":-7.75,"d1":-7.875,"clay":0.14},{"x0":7.6,"x1":9,"d0":-7.75,"d1":-7.875,"clay":0.15},{"x0":9,"x1":10,"d0":-7.75,"d1":-7.875,"clay":0.16},{"x0":10,"x1":12.2,"d0":-7.75,"d1":-7.875,"clay":0.17},{"x0":12.2,"x1":14.2,"d0":-7.75,"d1":-7.875,"clay":0.18},{"x0":14.2,"x1":15.5,"d0":-7.75,"d1":-7.875,"clay":0.17},{"x0":15.5,"x1":16.2,"d0":-7.75,"d1":-7.875,"clay":0.15},{"x0":16.2,"x1":19,"d0":-7.75,"d1":-7.875,"clay":0.16},{"x0":19,"x1":24.4,"d0":-7.75,"d1":-7.875,"clay":0.15},
{"x0":0,"x1":1,"d0":-7.875,"d1":-8,"clay":0.18},{"x0":1,"x1":2,"d0":-7.875,"d1":-8,"clay":0.17},{"x0":2,"x1":3.5,"d0":-7.875,"d1":-8,"clay":0.16},{"x0":3.5,"x1":5,"d0":-7.875,"d1":-8,"clay":0.15},{"x0":5,"x1":7,"d0":-7.875,"d1":-8,"clay":0.13},{"x0":7,"x1":7.6,"d0":-7.875,"d1":-8,"clay":0.14},{"x0":7.6,"x1":8.2,"d0":-7.875,"d1":-8,"clay":0.15},{"x0":8.2,"x1":8.8,"d0":-7.875,"d1":-8,"clay":0.16},{"x0":8.8,"x1":9.6,"d0":-7.875,"d1":-8,"clay":0.17},{"x0":9.6,"x1":10.3,"d0":-7.875,"d1":-8,"clay":0.18},{"x0":10.3,"x1":11,"d0":-7.875,"d1":-8,"clay":0.19},{"x0":11,"x1":13.2,"d0":-7.875,"d1":-8,"clay":0.2},{"x0":13.2,"x1":15,"d0":-7.875,"d1":-8,"clay":0.19},{"x0":15,"x1":17,"d0":-7.875,"d1":-8,"clay":0.18},{"x0":17,"x1":20,"d0":-7.875,"d1":-8,"clay":0.17},{"x0":20,"x1":24.4,"d0":-7.875,"d1":-8,"clay":0.15},
{"x0":0,"x1":0.8,"d0":-8,"d1":-8.125,"clay":0.18},{"x0":0.8,"x1":2.4,"d0":-8,"d1":-8.125,"clay":0.17},{"x0":2.4,"x1":5,"d0":-8,"d1":-8.125,"clay":0.16},{"x0":5,"x1":6,"d0":-8,"d1":-8.125,"clay":0.15},{"x0":6,"x1":7.7,"d0":-8,"d1":-8.125,"clay":0.14},{"x0":7.7,"x1":8.2,"d0":-8,"d1":-8.125,"clay":0.15},{"x0":8.2,"x1":8.9,"d0":-8,"d1":-8.125,"clay":0.16},{"x0":8.9,"x1":9.6,"d0":-8,"d1":-8.125,"clay":0.17},{"x0":9.6,"x1":10.3,"d0":-8,"d1":-8.125,"clay":0.18},{"x0":10.3,"x1":11,"d0":-8,"d1":-8.125,"clay":0.19},{"x0":11,"x1":11.7,"d0":-8,"d1":-8.125,"clay":0.2},{"x0":11.7,"x1":12.2,"d0":-8,"d1":-8.125,"clay":0.21},{"x0":12.2,"x1":14,"d0":-8,"d1":-8.125,"clay":0.22},{"x0":14,"x1":16,"d0":-8,"d1":-8.125,"clay":0.21},{"x0":16,"x1":20,"d0":-8,"d1":-8.125,"clay":0.2},{"x0":20,"x1":21.8,"d0":-8,"d1":-8.125,"clay":0.19},{"x0":21.8,"x1":23.4,"d0":-8,"d1":-8.125,"clay":0.18},{"x0":23.4,"x1":24.4,"d0":-8,"d1":-8.125,"clay":0.17},
{"x0":0,"x1":1.5,"d0":-8.125,"d1":-8.25,"clay":0.18},{"x0":1.5,"x1":3.5,"d0":-8.125,"d1":-8.25,"clay":0.17},{"x0":3.5,"x1":5,"d0":-8.125,"d1":-8.25,"clay":0.16},{"x0":5,"x1":6.1,"d0":-8.125,"d1":-8.25,"clay":0.15},{"x0":6.1,"x1":7,"d0":-8.125,"d1":-8.25,"clay":0.14},{"x0":7,"x1":8.7,"d0":-8.125,"d1":-8.25,"clay":0.15},{"x0":8.7,"x1":9.5,"d0":-8.125,"d1":-8.25,"clay":0.16},{"x0":9.5,"x1":11,"d0":-8.125,"d1":-8.25,"clay":0.17},{"x0":11,"x1":11.8,"d0":-8.125,"d1":-8.25,"clay":0.18},{"x0":11.8,"x1":12.2,"d0":-8.125,"d1":-8.25,"clay":0.19},{"x0":12.2,"x1":20,"d0":-8.125,"d1":-8.25,"clay":0.2},{"x0":20,"x1":22,"d0":-8.125,"d1":-8.25,"clay":0.19},{"x0":22,"x1":23,"d0":-8.125,"d1":-8.25,"clay":0.18},{"x0":23,"x1":24.4,"d0":-8.125,"d1":-8.25,"clay":0.17},
{"x0":0,"x1":0.4,"d0":-8.25,"d1":-8.375,"clay":0.21},{"x0":0.4,"x1":1.7,"d0":-8.25,"d1":-8.375,"clay":0.2},{"x0":1.7,"x1":2.6,"d0":-8.25,"d1":-8.375,"clay":0.19},{"x0":2.6,"x1":3.7,"d0":-8.25,"d1":-8.375,"clay":0.18},{"x0":3.7,"x1":4.8,"d0":-8.25,"d1":-8.375,"clay":0.17},{"x0":4.8,"x1":5.5,"d0":-8.25,"d1":-8.375,"clay":0.16},{"x0":5.5,"x1":8.8,"d0":-8.25,"d1":-8.375,"clay":0.15},{"x0":8.8,"x1":11,"d0":-8.25,"d1":-8.375,"clay":0.16},{"x0":11,"x1":12.2,"d0":-8.25,"d1":-8.375,"clay":0.17},{"x0":12.2,"x1":13.8,"d0":-8.25,"d1":-8.375,"clay":0.18},{"x0":13.8,"x1":16.2,"d0":-8.25,"d1":-8.375,"clay":0.19},{"x0":16.2,"x1":18.9,"d0":-8.25,"d1":-8.375,"clay":0.2},{"x0":18.9,"x1":20.5,"d0":-8.25,"d1":-8.375,"clay":0.19},{"x0":20.5,"x1":21.9,"d0":-8.25,"d1":-8.375,"clay":0.18},{"x0":21.9,"x1":24.4,"d0":-8.25,"d1":-8.375,"clay":0.17},
{"x0":0,"x1":1,"d0":-8.375,"d1":-8.5,"clay":0.19},{"x0":1,"x1":2.4,"d0":-8.375,"d1":-8.5,"clay":0.18},{"x0":2.4,"x1":3.7,"d0":-8.375,"d1":-8.5,"clay":0.17},{"x0":3.7,"x1":5,"d0":-8.375,"d1":-8.5,"clay":0.16},{"x0":5,"x1":5.8,"d0":-8.375,"d1":-8.5,"clay":0.15},{"x0":5.8,"x1":7.5,"d0":-8.375,"d1":-8.5,"clay":0.14},{"x0":7.5,"x1":8.4,"d0":-8.375,"d1":-8.5,"clay":0.15},{"x0":8.4,"x1":9.3,"d0":-8.375,"d1":-8.5,"clay":0.16},{"x0":9.3,"x1":11.6,"d0":-8.375,"d1":-8.5,"clay":0.17},{"x0":11.6,"x1":13.9,"d0":-8.375,"d1":-8.5,"clay":0.18},{"x0":13.9,"x1":18.4,"d0":-8.375,"d1":-8.5,"clay":0.19},{"x0":18.4,"x1":21,"d0":-8.375,"d1":-8.5,"clay":0.18},{"x0":21,"x1":24.4,"d0":-8.375,"d1":-8.5,"clay":0.17},
{"x0":0,"x1":3.5,"d0":-8.5,"d1":-8.625,"clay":0.17},{"x0":3.5,"x1":4.5,"d0":-8.5,"d1":-8.625,"clay":0.16},{"x0":4.5,"x1":5.3,"d0":-8.5,"d1":-8.625,"clay":0.15},{"x0":5.3,"x1":6.9,"d0":-8.5,"d1":-8.625,"clay":0.13},{"x0":6.9,"x1":7.5,"d0":-8.5,"d1":-8.625,"clay":0.14},{"x0":7.5,"x1":8.4,"d0":-8.5,"d1":-8.625,"clay":0.15},{"x0":8.4,"x1":9.3,"d0":-8.5,"d1":-8.625,"clay":0.16},{"x0":9.3,"x1":11.7,"d0":-8.5,"d1":-8.625,"clay":0.17},{"x0":11.7,"x1":12.2,"d0":-8.5,"d1":-8.625,"clay":0.18},{"x0":12.2,"x1":16.2,"d0":-8.5,"d1":-8.625,"clay":0.19},{"x0":16.2,"x1":21.7,"d0":-8.5,"d1":-8.625,"clay":0.18},{"x0":21.7,"x1":24.4,"d0":-8.5,"d1":-8.625,"clay":0.17},
{"x0":0,"x1":2,"d0":-8.625,"d1":-8.75,"clay":0.17},{"x0":2,"x1":4,"d0":-8.625,"d1":-8.75,"clay":0.16},{"x0":4,"x1":5,"d0":-8.625,"d1":-8.75,"clay":0.15},{"x0":5,"x1":5.4,"d0":-8.625,"d1":-8.75,"clay":0.14},{"x0":5.4,"x1":6.9,"d0":-8.625,"d1":-8.75,"clay":0.13},{"x0":6.9,"x1":8.2,"d0":-8.625,"d1":-8.75,"clay":0.14},{"x0":8.2,"x1":9,"d0":-8.625,"d1":-8.75,"clay":0.15},{"x0":9,"x1":11.7,"d0":-8.625,"d1":-8.75,"clay":0.16},{"x0":11.7,"x1":24.4,"d0":-8.625,"d1":-8.75,"clay":0.18},
{"x0":0,"x1":1.3,"d0":-8.75,"d1":-8.875,"clay":0.16},{"x0":1.3,"x1":3.5,"d0":-8.75,"d1":-8.875,"clay":0.15},{"x0":3.5,"x1":5.4,"d0":-8.75,"d1":-8.875,"clay":0.14},{"x0":5.4,"x1":6.9,"d0":-8.75,"d1":-8.875,"clay":0.13},{"x0":6.9,"x1":8.3,"d0":-8.75,"d1":-8.875,"clay":0.14},{"x0":8.3,"x1":9.4,"d0":-8.75,"d1":-8.875,"clay":0.15},{"x0":9.4,"x1":11.6,"d0":-8.75,"d1":-8.875,"clay":0.16},{"x0":11.6,"x1":13.2,"d0":-8.75,"d1":-8.875,"clay":0.17},{"x0":13.2,"x1":15,"d0":-8.75,"d1":-8.875,"clay":0.18},{"x0":15,"x1":17,"d0":-8.75,"d1":-8.875,"clay":0.19},{"x0":17,"x1":21,"d0":-8.75,"d1":-8.875,"clay":0.2},{"x0":21,"x1":23.5,"d0":-8.75,"d1":-8.875,"clay":0.19},{"x0":23.5,"x1":24.4,"d0":-8.75,"d1":-8.875,"clay":0.18},
{"x0":0,"x1":10.5,"d0":-8.875,"d1":-9,"clay":0.15},{"x0":10.5,"x1":13,"d0":-8.875,"d1":-9,"clay":0.16},{"x0":13,"x1":15,"d0":-8.875,"d1":-9,"clay":0.17},{"x0":15,"x1":21,"d0":-8.875,"d1":-9,"clay":0.18},{"x0":21,"x1":24.4,"d0":-8.875,"d1":-9,"clay":0.17},
{"x0":0,"x1":1.2,"d0":-9,"d1":-9.125,"clay":0.14},{"x0":1.2,"x1":2.4,"d0":-9,"d1":-9.125,"clay":0.15},{"x0":2.4,"x1":8,"d0":-9,"d1":-9.125,"clay":0.16},{"x0":8,"x1":12.2,"d0":-9,"d1":-9.125,"clay":0.15},{"x0":12.2,"x1":16,"d0":-9,"d1":-9.125,"clay":0.16},{"x0":16,"x1":19,"d0":-9,"d1":-9.125,"clay":0.17},{"x0":19,"x1":22,"d0":-9,"d1":-9.125,"clay":0.16},{"x0":22,"x1":24.4,"d0":-9,"d1":-9.125,"clay":0.15},
{"x0":0,"x1":1.6,"d0":-9.125,"d1":-9.25,"clay":0.14},{"x0":1.6,"x1":3.5,"d0":-9.125,"d1":-9.25,"clay":0.15},{"x0":3.5,"x1":5.8,"d0":-9.125,"d1":-9.25,"clay":0.16},{"x0":5.8,"x1":16.2,"d0":-9.125,"d1":-9.25,"clay":0.15},{"x0":16.2,"x1":18.3,"d0":-9.125,"d1":-9.25,"clay":0.16},{"x0":18.3,"x1":21.8,"d0":-9.125,"d1":-9.25,"clay":0.15},{"x0":21.8,"x1":24.4,"d0":-9.125,"d1":-9.25,"clay":0.14},
{"x0":0,"x1":1.1,"d0":-9.25,"d1":-9.375,"clay":0.15},{"x0":1.1,"x1":4,"d0":-9.25,"d1":-9.375,"clay":0.14},{"x0":4,"x1":18,"d0":-9.25,"d1":-9.375,"clay":0.15},{"x0":18,"x1":23.2,"d0":-9.25,"d1":-9.375,"clay":0.14},{"x0":23.2,"x1":24.4,"d0":-9.25,"d1":-9.375,"clay":0.13},
{"x0":0,"x1":6.8,"d0":-9.375,"d1":-9.5,"clay":0.15},{"x0":6.8,"x1":21.8,"d0":-9.375,"d1":-9.5,"clay":0.14},{"x0":21.8,"x1":24.4,"d0":-9.375,"d1":-9.5,"clay":0.13},
{"x0":0,"x1":2.5,"d0":-9.5,"d1":-9.625,"clay":0.15},{"x0":2.5,"x1":6.8,"d0":-9.5,"d1":-9.625,"clay":0.14},{"x0":6.8,"x1":8.9,"d0":-9.5,"d1":-9.625,"clay":0.13},{"x0":8.9,"x1":10,"d0":-9.5,"d1":-9.625,"clay":0.12},{"x0":10,"x1":16.2,"d0":-9.5,"d1":-9.625,"clay":0.11},{"x0":16.2,"x1":24.4,"d0":-9.5,"d1":-9.625,"clay":0.12},
{"x0":0,"x1":2,"d0":-9.625,"d1":-9.75,"clay":0.16},{"x0":2,"x1":4,"d0":-9.625,"d1":-9.75,"clay":0.15},{"x0":4,"x1":8,"d0":-9.625,"d1":-9.75,"clay":0.14},{"x0":8,"x1":9.5,"d0":-9.625,"d1":-9.75,"clay":0.13},{"x0":9.5,"x1":16.8,"d0":-9.625,"d1":-9.75,"clay":0.12},{"x0":16.8,"x1":24,"d0":-9.625,"d1":-9.75,"clay":0.11},{"x0":24,"x1":24.4,"d0":-9.625,"d1":-9.75,"clay":0.12},
{"x0":0,"x1":2.2,"d0":-9.75,"d1":-9.875,"clay":0.17},{"x0":2.2,"x1":3.7,"d0":-9.75,"d1":-9.875,"clay":0.15},{"x0":3.7,"x1":4.6,"d0":-9.75,"d1":-9.875,"clay":0.14},{"x0":4.6,"x1":5.4,"d0":-9.75,"d1":-9.875,"clay":0.13},{"x0":5.4,"x1":7.5,"d0":-9.75,"d1":-9.875,"clay":0.12},{"x0":7.5,"x1":9.5,"d0":-9.75,"d1":-9.875,"clay":0.13},{"x0":9.5,"x1":14.3,"d0":-9.75,"d1":-9.875,"clay":0.14},{"x0":14.3,"x1":16.8,"d0":-9.75,"d1":-9.875,"clay":0.13},{"x0":16.8,"x1":17.5,"d0":-9.75,"d1":-9.875,"clay":0.12},{"x0":17.5,"x1":19.5,"d0":-9.75,"d1":-9.875,"clay":0.11},{"x0":19.5,"x1":22,"d0":-9.75,"d1":-9.875,"clay":0.1},{"x0":22,"x1":23.8,"d0":-9.75,"d1":-9.875,"clay":0.11},{"x0":23.8,"x1":24.4,"d0":-9.75,"d1":-9.875,"clay":0.13},
{"x0":0,"x1":1.5,"d0":-9.875,"d1":-10,"clay":0.2},{"x0":1.5,"x1":2,"d0":-9.875,"d1":-10,"clay":0.19},{"x0":2,"x1":2.4,"d0":-9.875,"d1":-10,"clay":0.17},{"x0":2.4,"x1":4,"d0":-9.875,"d1":-10,"clay":0.15},{"x0":4,"x1":7,"d0":-9.875,"d1":-10,"clay":0.14},{"x0":7,"x1":16,"d0":-9.875,"d1":-10,"clay":0.13},{"x0":16,"x1":17,"d0":-9.875,"d1":-10,"clay":0.12},{"x0":17,"x1":22,"d0":-9.875,"d1":-10,"clay":0.11},{"x0":22,"x1":24.4,"d0":-9.875,"d1":-10,"clay":0.12}
]},"mark":{"type":"rect","strokeWidth":0.6},"encoding":{"x":{"field":"x0","type":"quantitative","scale":{"domain":[0,24.4],"nice":false},"axis":{"values":[0,2,4,6,8,10,12,14,16,18,20,22,24],"format":"d","labelFlush":false,"tickSize":20,"tickColor":"#555","domainColor":"#777","labelFontSize":25,"labelPadding":5,"title":"Linear Distance (m)","titleFontSize":35,"titlePadding":6}},"x2":{"field":"x1"},"y":{"field":"d0","type":"quantitative","scale":{"domain":[-10,0],"nice":false},"axis":{"values":[0,-1,-2,-3,-4,-5,-6,-7,-8,-9,-10],"labelExpr":"''+datum.value","labelFlush":false,"tickSize":20,"tickColor":"#555","domainColor":"#777","labelFontSize":25,"labelPadding":6,"title":"Depth(m)","titleFontSize":35,"titlePadding":15}},"y2":{"field":"d1"},"fill":{"field":"clay","type":"quantitative","legend":null,"scale":{"type":"threshold","domain":[0.08,0.09,0.1,0.11,0.12,0.13,0.14,0.15,0.16,0.17,0.18,0.19,0.2,0.21,0.22,0.23,0.24,0.25],"range":["#9966ff","#7050ff","#4040ff","#1a10ff","#0a20d8","#0a6499","#0a9c55","#00e81a","#33ff00","#7fff00","#c8ff00","#ffff00","#ffcc00","#ffa500","#ff8000","#ff5f00","#ff4000","#ff2000","#ff0000"]}},"stroke":{"field":"clay","type":"quantitative","legend":null,"scale":{"type":"threshold","domain":[0.08,0.09,0.1,0.11,0.12,0.13,0.14,0.15,0.16,0.17,0.18,0.19,0.2,0.21,0.22,0.23,0.24,0.25],"range":["#9966ff","#7050ff","#4040ff","#1a10ff","#0a20d8","#0a6499","#0a9c55","#00e81a","#33ff00","#7fff00","#c8ff00","#ffff00","#ffcc00","#ffa500","#ff8000","#ff5f00","#ff4000","#ff2000","#ff0000"]}}}},{"data":{"values":[{"x":0},{"x":6.1},{"x":12.2},{"x":18.3},{"x":24.4}]},"mark":{"type":"rule","color":"#000","strokeWidth":3,"strokeDash":[3,6.3]},"encoding":{"x":{"field":"x","type":"quantitative","scale":{"domain":[0,24.4],"nice":false}}}},{"data":{"values":[{"x":0,"y":0.63,"t":"C7117"},{"x":6.1,"y":0.63,"t":"C7120"},{"x":12.3,"y":0.63,"t":"C7123"},{"x":18.3,"y":0.63,"t":"C7126"},{"x":24.4,"y":0.63,"t":"C7129"},{"x":-0.07,"y":1.64,"t":"West"},{"x":24.48,"y":1.45,"t":"East"}]},"mark":{"type":"text","fontSize":35,"color":"#222","align":"center","baseline":"middle"},"encoding":{"x":{"field":"x","type":"quantitative","scale":{"domain":[0,24.4],"nice":false}},"y":{"field":"y","type":"quantitative","scale":{"domain":[-10,0],"nice":false},"axis":{"orient":"right","values":[0,-1,-2,-3,-4,-5,-6,-7,-8,-9,-10],"labels":false,"domain":false,"tickSize":20,"tickColor":"#555","title":null}},"text":{"field":"t"}}}],"resolve":{"axis":{"y":"independent"}}},{"width":1504,"height":64,"layer":[{"data":{"values":[{"clay":0.07,"next":0.08},{"clay":0.08,"next":0.09},{"clay":0.09,"next":0.1},{"clay":0.1,"next":0.11},{"clay":0.11,"next":0.12},{"clay":0.12,"next":0.13},{"clay":0.13,"next":0.14},{"clay":0.14,"next":0.15},{"clay":0.15,"next":0.16},{"clay":0.16,"next":0.17},{"clay":0.17,"next":0.18},{"clay":0.18,"next":0.19},{"clay":0.19,"next":0.2},{"clay":0.2,"next":0.21},{"clay":0.21,"next":0.22},{"clay":0.22,"next":0.23},{"clay":0.23,"next":0.24},{"clay":0.24,"next":0.25},{"clay":0.25,"next":0.26}]},"mark":{"type":"rect","stroke":"#333","strokeWidth":0.7},"encoding":{"x":{"field":"clay","type":"quantitative","scale":{"domain":[0.04165,0.3265],"nice":false},"axis":{"values":[0.07,0.08,0.09,0.1,0.11,0.12,0.13,0.14,0.15,0.16,0.17,0.18,0.19,0.2,0.21,0.22,0.23,0.24,0.25],"format":"~g","labelAngle":90,"labelFontSize":34,"labelPadding":6,"ticks":false,"domain":false,"title":null}},"x2":{"field":"next"},"fill":{"field":"clay","type":"quantitative","legend":null,"scale":{"type":"threshold","domain":[0.08,0.09,0.1,0.11,0.12,0.13,0.14,0.15,0.16,0.17,0.18,0.19,0.2,0.21,0.22,0.23,0.24,0.25],"range":["#9966ff","#7050ff","#4040ff","#1a10ff","#0a20d8","#0a6499","#0a9c55","#00e81a","#33ff00","#7fff00","#c8ff00","#ffff00","#ffcc00","#ffa500","#ff8000","#ff5f00","#ff4000","#ff2000","#ff0000"]}}}},{"data":{"values":[{"x":0.26395,"y":0.68,"t":"% Clay Content"},{"x":0.26395,"y":0.09,"t":"(KUT Analysis)"}]},"mark":{"type":"text","fontSize":35,"color":"#222","align":"left","baseline":"middle"},"encoding":{"x":{"field":"x","type":"quantitative","scale":{"domain":[0.04165,0.3265],"nice":false}},"y":{"field":"y","type":"quantitative","scale":{"domain":[0,1]},"axis":null},"text":{"field":"t"}}}]}]}
